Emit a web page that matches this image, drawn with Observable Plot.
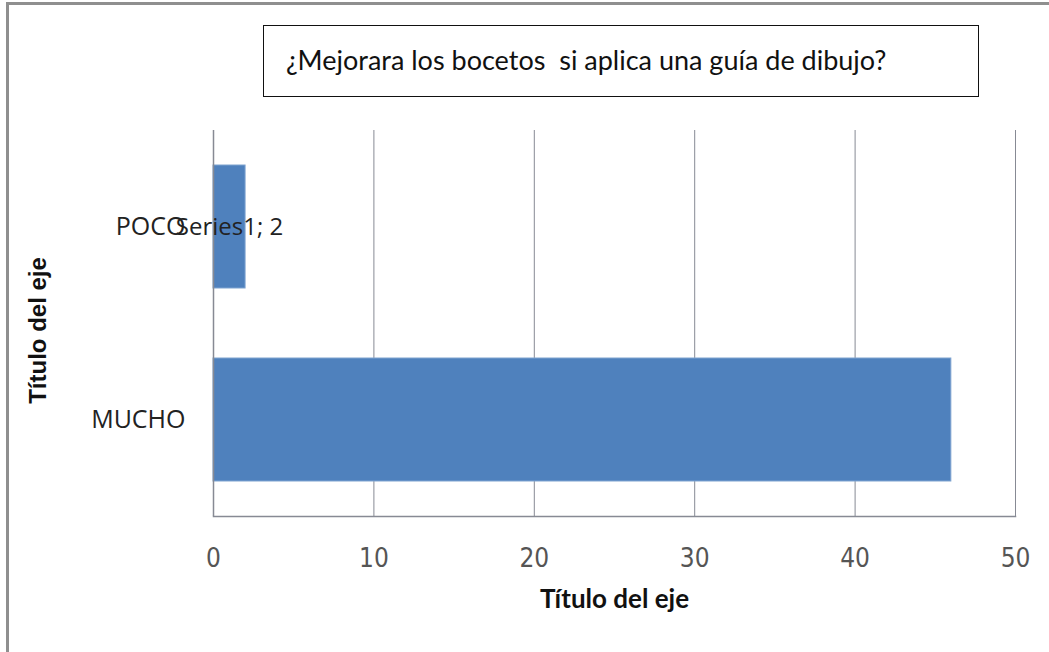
<!DOCTYPE html>
<html>
<head>
<meta charset="utf-8">
<script src="https://cdn.jsdelivr.net/npm/d3@7"></script>
<script src="https://cdn.jsdelivr.net/npm/@observablehq/plot@0.6"></script>
<style>
  html, body { margin: 0; padding: 0; background: #fff; }
  #wrap { position: relative; width: 1049px; height: 652px; overflow: hidden; }
  #sheet { position: absolute; left: 6px; top: 2px; width: 1100px; height: 700px;
           border-top: 3px solid #8f8f8f; border-left: 3px solid #8f8f8f; }
  #title { position: absolute; left: 263px; top: 25px; width: 692px; height: 70px;
           border: 1.5px solid #111; font-family: Lato, "Open Sans", sans-serif;
           font-size: 27px; color: #111; line-height: 68px; padding-left: 22px;
           box-sizing: content-box; white-space: pre; }
  #chart { position: absolute; left: 0; top: 0; }
</style>
</head>
<body>
<div id="wrap">
  <div id="sheet"></div>
  <div id="chart"></div>
  <div id="title">¿Mejorara los bocetos  si aplica una guía de dibujo?</div>
</div>
<script>
// Survey answers: how much sketches improve with a drawing guide
const categories = ["POCO", "MUCHO"];
const values = [2, 46];
const seriesName = "Series1";
const labelled = ["POCO"];            // only this bar carries a data label
const xTicks = [0, 10, 20, 30, 40, 50];
const axisTitle = "Título del eje";

const rows = categories.map((c, i) => ({category: c, value: values[i]}));
const labelRows = rows.filter(d => labelled.includes(d.category));

const chart = Plot.plot({
  width: 1049,
  height: 652,
  marginLeft: 213,
  marginRight: 34,
  marginTop: 130,
  marginBottom: 136,
  style: {background: "transparent", overflow: "visible"},
  x: {domain: [0, 50], ticks: xTicks},
  y: {domain: categories, paddingInner: 0.363, paddingOuter: 0.181},
  marks: [
    Plot.gridX(xTicks.slice(1), {stroke: "#878a94", strokeOpacity: 1, strokeWidth: 1}),
    Plot.barX(rows, {y: "category", x: "value", fill: "#4f81bd", stroke: "#7fa3d0", strokeWidth: 1}),
    Plot.ruleX([0], {stroke: "#878a94", strokeWidth: 1.5}),
    Plot.frame({anchor: "bottom", stroke: "#878a94", strokeWidth: 1.5}),
    Plot.axisX({ticks: xTicks, tickSize: 0, tickPadding: 32, fontSize: 26,
      fill: "#555", fontFamily: "'Liberation Sans Narrow', 'DejaVu Sans Condensed', sans-serif", label: null}),
    Plot.axisY({tickSize: 0, tickPadding: 28, fontSize: 25, fill: "#222",
      fontFamily: "'Open Sans', sans-serif", label: null}),
    Plot.text(labelRows, {y: "category", x: d => d.value / 2,
      text: d => `${seriesName}; ${d.value}`, fontSize: 24, fill: "#222",
      fontFamily: "'Open Sans', sans-serif"}),
    Plot.text([axisTitle], {frameAnchor: "bottom", dy: 91, fontSize: 26, fontWeight: "bold",
      fill: "#111", fontFamily: "Lato, 'Open Sans', sans-serif"}),
    Plot.text([axisTitle], {frameAnchor: "left", textAnchor: "middle", rotate: -90, dx: -175, dy: 7,
      fontSize: 24, fontWeight: "bold", fill: "#111",
      fontFamily: "'Liberation Sans', Arial, sans-serif"})
  ]
});
document.getElementById("chart").appendChild(chart);
</script>
</body>
</html>
